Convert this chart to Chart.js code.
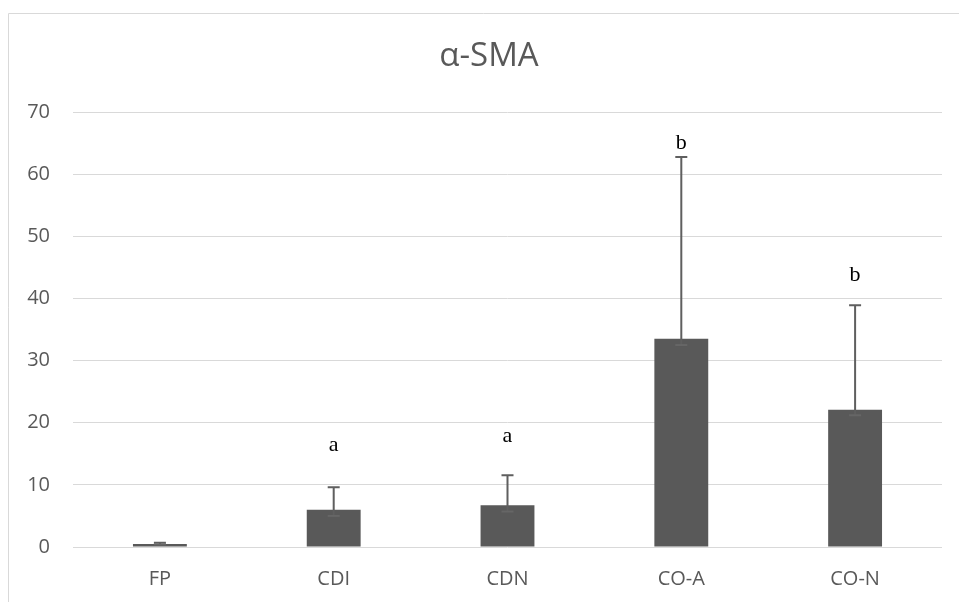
<!DOCTYPE html>
<html>
<head>
<meta charset="utf-8">
<script src="https://cdn.jsdelivr.net/npm/chart.js@4.4.1/dist/chart.umd.min.js"></script>
<style>
  html, body { margin: 0; padding: 0; background: #fff; }
  #wrap { width: 959px; height: 602px; position: relative; }
</style>
</head>
<body>
<div id="wrap"><canvas id="smaChart"></canvas></div>
<script>
const chartTitle = 'α-SMA';
const groups = ['FP', 'CDI', 'CDN', 'CO-A', 'CO-N'];
const means = [0.5, 6.0, 6.7, 33.5, 22.1];
const errPlus = [0.2, 3.6, 4.85, 29.25, 16.8];
const errMinus = [0.1, 1.0, 1.0, 1.0, 0.9];
const letters = ['', 'a', 'a', 'b', 'b'];
const letterLevels = [null, 16.4, 17.9, 65.0, 43.8];
const yTicks = [0, 10, 20, 30, 40, 50, 60, 70];

const grey = '#595959';

// frame + title, centred on the frame like the office export
const framePlugin = {
  id: 'frame',
  beforeDraw(chart) {
    const c = chart.ctx;
    c.save();
    c.strokeStyle = '#d9d9d9';
    c.lineWidth = 1;
    c.beginPath();
    c.moveTo(8.5, chart.height);
    c.lineTo(8.5, 13.5);
    c.lineTo(chart.width, 13.5);
    c.stroke();
    c.fillStyle = grey;
    c.font = '33px "Open Sans", sans-serif';
    c.textAlign = 'center';
    c.textBaseline = 'middle';
    c.fillText(chartTitle, 489, 57);
    c.restore();
  }
};

const errorBars = {
  id: 'errorBars',
  afterDatasetsDraw(chart) {
    const c = chart.ctx;
    const y = chart.scales.y;
    const meta = chart.getDatasetMeta(0);
    c.save();
    c.lineWidth = 2;
    meta.data.forEach((bar, i) => {
      const x = bar.x;
      const top = y.getPixelForValue(means[i] + errPlus[i]);
      const bot = y.getPixelForValue(means[i] - errMinus[i]);
      c.strokeStyle = '#5f5f5f';
      c.beginPath();
      c.moveTo(x, bot); c.lineTo(x, top);
      c.moveTo(x - 6, top); c.lineTo(x + 6, top);
      c.stroke();
      c.strokeStyle = '#666666';
      c.beginPath();
      c.moveTo(x - 6, bot); c.lineTo(x + 6, bot);
      c.stroke();
      if (letters[i]) {
        c.fillStyle = '#000';
        c.font = '22px "Liberation Serif", "Times New Roman", serif';
        c.textAlign = 'center';
        c.textBaseline = 'middle';
        c.fillText(letters[i], x, y.getPixelForValue(letterLevels[i]));
      }
    });
    c.restore();
  }
};

new Chart(document.getElementById('smaChart').getContext('2d'), {
  type: 'bar',
  data: {
    labels: groups,
    datasets: [{
      label: chartTitle,
      data: means,
      backgroundColor: grey,
      barPercentage: 0.31,
      categoryPercentage: 1
    }]
  },
  options: {
    responsive: true,
    maintainAspectRatio: false,
    animation: false,
    layout: { padding: { left: 0, right: 17, top: 112, bottom: 0 } },
    plugins: {
      legend: { display: false },
      tooltip: { enabled: false },
      title: { display: false }
    },
    scales: {
      x: {
        grid: { display: false, drawTicks: false },
        border: { display: false },
        ticks: {
          color: grey,
          padding: 20,
          font: { family: '"Open Sans", sans-serif', size: 20 }
        },
        afterFit(s) { s.height = 55; }
      },
      y: {
        min: 0,
        max: 70,
        afterBuildTicks(s) { s.ticks = yTicks.map(v => ({ value: v })); },
        grid: { color: '#d9d9d9', lineWidth: 1, drawTicks: false },
        border: { display: false },
        ticks: {
          color: grey,
          padding: 23,
          font: { family: '"Open Sans", sans-serif', size: 20 }
        },
        afterFit(s) { s.width = 73; }
      }
    }
  },
  plugins: [framePlugin, errorBars]
});
</script>
</body>
</html>
